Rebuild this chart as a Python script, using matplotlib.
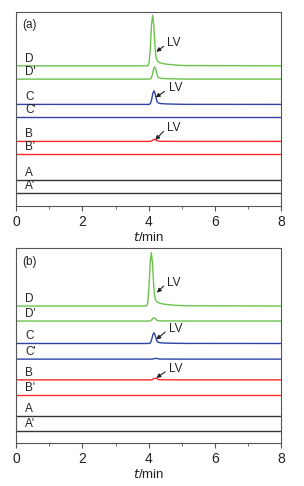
import numpy as np
import matplotlib.pyplot as plt
from matplotlib.ticker import MultipleLocator

# trace names, bottom to top
names = ["A'", "A", "B'", "B", "C'", "C", "D'", "D"]
colors = ['#333333', '#333333', '#ff2a2a', '#ff2a2a',
          '#2e43a3', '#2e43a3', '#6cc34c', '#6cc34c']

# baseline offsets (arbitrary units)
base_a = [12.7, 25.7, 51.7, 64.7, 88.7, 101.7, 127.0, 140.3]
base_b = [12.3, 26.7, 47.7, 63.0, 83.7, 99.3, 121.7, 136.7]

# peak apex time and height for each trace
apex_a = [4.15, 4.15, 4.15, 4.17, 4.15, 4.16, 4.18, 4.12]
height_a = [0.0, 0.0, 0.0, 2.0, 0.0, 13.6, 12.3, 50.7]
apex_b = [4.15, 4.15, 4.15, 4.20, 4.22, 4.16, 4.16, 4.08]
height_b = [0.0, 0.0, 0.0, 1.7, 0.8, 10.7, 3.3, 53.3]

# normalised peak profile: time offset from apex (min) and relative signal
prof_dt = [-4.2, -0.15, -0.11, -0.07, -0.035, 0.0, 0.035, 0.07,
           0.1, 0.14, 0.2, 0.3, 0.45, 0.7, 1.0, 4.0]
prof_y = [0.0, 0.0, 0.05, 0.35, 0.8, 1.0, 0.8, 0.4,
          0.18, 0.1, 0.065, 0.045, 0.03, 0.015, 0.005, 0.0]

# LV annotations: trace index, text (x, dy), arrow tail (x, dy), arrow head (x, dy)
lv_a = [(7, (4.55, 22.7), (4.45, 19.5), (4.23, 14.0)),
        (5, (4.6, 16.0), (4.48, 13.0), (4.21, 7.0)),
        (3, (4.55, 13.0), (4.45, 10.0), (4.2, 1.5))]
lv_b = [(7, (4.55, 23.3), (4.45, 20.0), (4.25, 13.3)),
        (5, (4.6, 14.7), (4.5, 11.5), (4.23, 4.0)),
        (3, (4.6, 11.0), (4.5, 8.0), (4.23, 2.0))]

xticks = [0, 2, 4, 6, 8]

fig = plt.figure(figsize=(3.04, 4.86), dpi=100)
plt.rcParams['font.family'] = 'Liberation Sans'
tc = '#222222'


def panel(ax, tag, base, apex, height, lv):
    for i in range(len(names)):
        t = np.array(prof_dt) + apex[i]
        t = np.concatenate([[0.0], t[(t > 0) & (t < 8)], [8.0]])
        y = np.interp(t - apex[i], prof_dt, prof_y) * height[i] + base[i]
        ax.plot(t, y, color=colors[i], lw=1.0)
        ax.text(0.27, base[i] + 1.0, names[i], fontsize=8.5, color=tc,
                ha='left', va='bottom')
    for i, txt, tail, head in lv:
        ax.text(txt[0], base[i] + txt[1], 'LV', fontsize=8.5, color=tc,
                ha='left', va='center')
        ax.annotate('', xy=(head[0], base[i] + head[1]),
                    xytext=(tail[0], base[i] + tail[1]),
                    arrowprops=dict(arrowstyle='-|>', color=tc, lw=0.8,
                                    mutation_scale=6, shrinkA=0, shrinkB=0))
    ax.text(0.2, 181, tag, fontsize=8.5, color=tc, va='center')
    ax.set_xlim(0, 8)
    ax.set_ylim(0, 194.5)
    ax.set_yticks([])
    ax.set_xticks(xticks)
    ax.xaxis.set_minor_locator(MultipleLocator(1))
    ax.tick_params(axis='x', which='major', direction='out', length=3.5,
                   labelsize=10, pad=3, color='#555555', labelcolor=tc)
    ax.tick_params(axis='x', which='minor', direction='out', length=2,
                   color='#555555')
    for s in ax.spines.values():
        s.set_color('#555555')
        s.set_linewidth(0.8)
    ax.set_xlabel('$\\it{t}$/min', fontsize=9.5, labelpad=1.5, color=tc)


ax1 = fig.add_axes([0.053, 0.576, 0.872, 0.400])
panel(ax1, '(a)', base_a, apex_a, height_a, lv_a)
ax2 = fig.add_axes([0.053, 0.0885, 0.872, 0.401])
panel(ax2, '(b)', base_b, apex_b, height_b, lv_b)

fig.savefig('out.png', dpi=100)
